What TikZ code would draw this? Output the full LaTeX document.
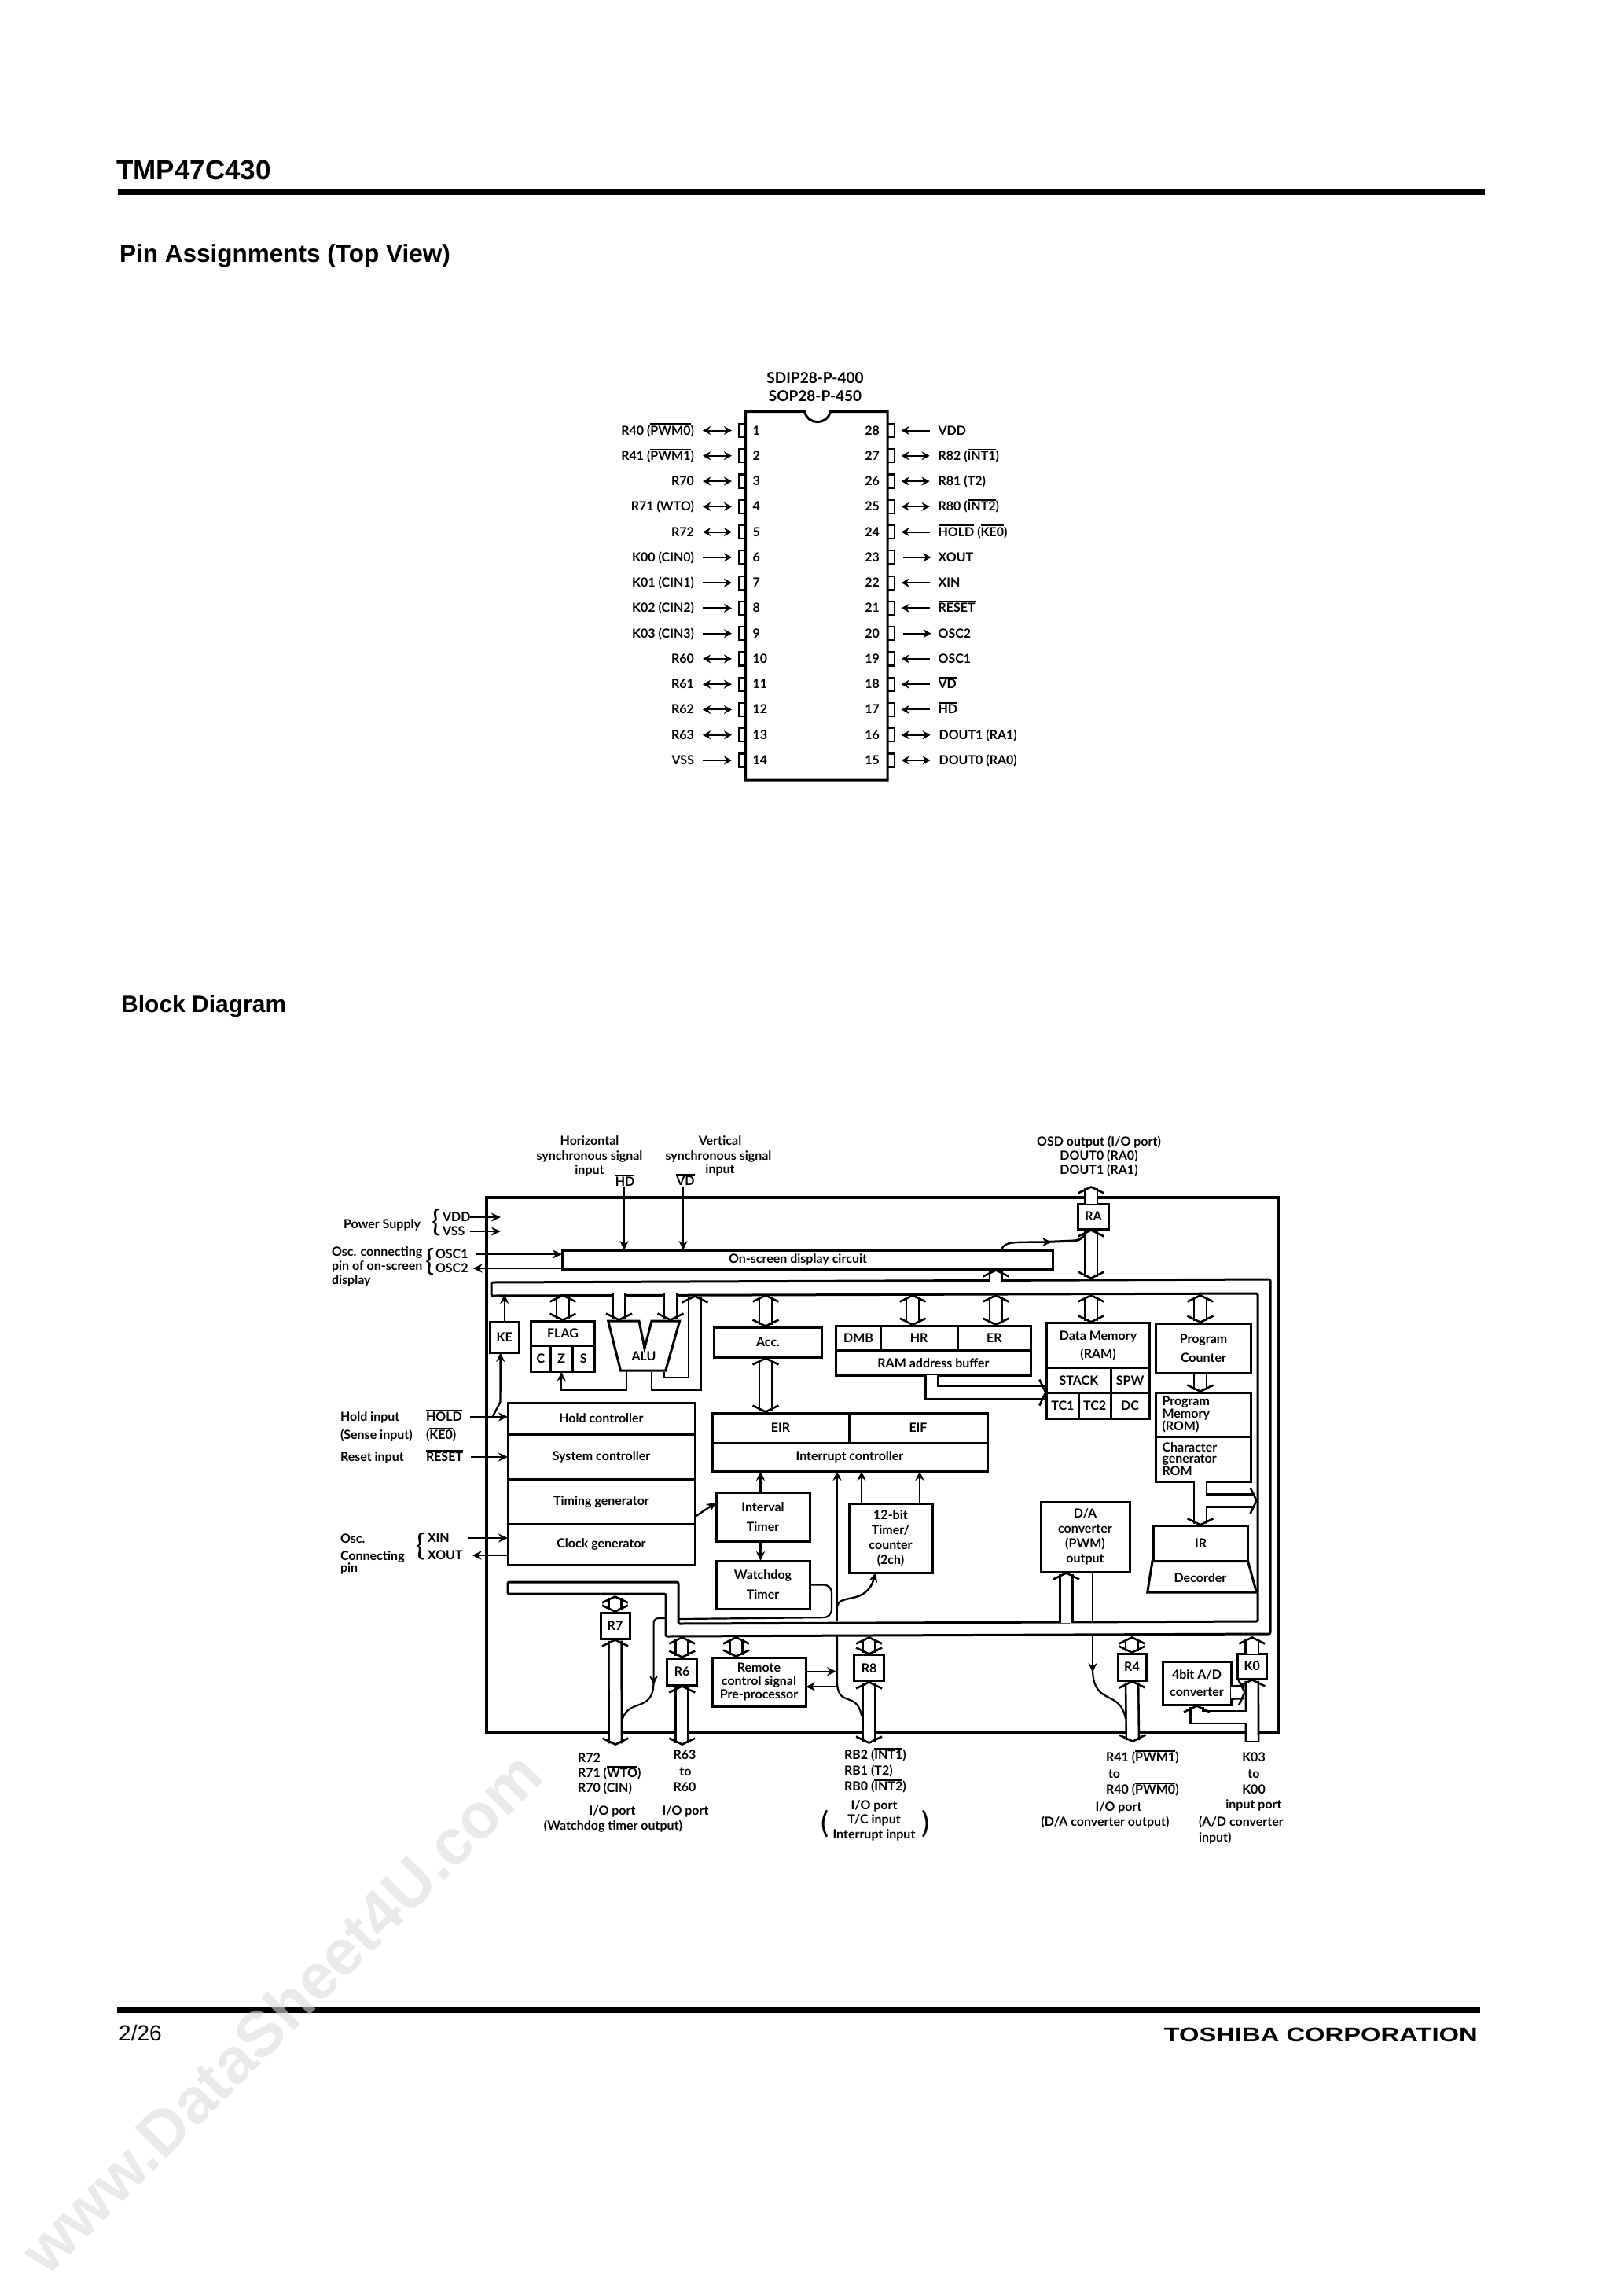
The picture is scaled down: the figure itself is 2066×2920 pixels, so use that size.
\documentclass[tikz,border=0pt]{standalone}
\usepackage{fontspec}
\setmainfont{Lato}
\newfontfamily\headfont{Liberation Sans}
\usetikzlibrary{arrows.meta, positioning, calc}
\newcommand{\lblfont}{\fontsize{16}{19}\selectfont\bfseries}
\newcommand{\ovl}[1]{\leavevmode\vbox{\hrule height 1.7pt \kern 1.3pt \hbox{#1}}}

\begin{document}
\begin{tikzpicture}[
  x=1pt, y=-1pt,
  lbl/.style={inner sep=0pt, outer sep=0pt, text height=11pt, text depth=0pt, font=\lblfont},
  lblw/.style={lbl, anchor=west},
  lble/.style={lbl, anchor=east},
  lblc/.style={lbl, anchor=center},
  stub/.style={draw, line width=2.2pt, fill=white, minimum width=8.6pt, minimum height=17pt, inner sep=0pt, outer sep=0pt},
  pinline/.style={line width=2pt, shorten <=11pt, shorten >=9pt},
  pinin/.style={pinline, -{Stealth[length=10pt, width=11pt]}},
  pinbi/.style={pinline, {Stealth[length=10pt, width=11pt]}-{Stealth[length=10pt, width=11pt]}},
  blk/.style={draw, line width=3pt, fill=white, inner sep=0pt, outer sep=0pt, align=center, font=\lblfont},
  sig/.style={line width=2.4pt, -{Stealth[length=12pt, width=11pt]}},
  wire/.style={line width=2.2pt},
  bustip/.tip={Straight Barb[length=8pt, width=33pt, line width=2.6pt]},
  dbl/.style={double, double distance=13.5pt, line width=2.6pt},
  dblboth/.style={dbl, {bustip}-{bustip}},
  dblend/.style={dbl, -{bustip}},
  dblstart/.style={dbl, {bustip}-},
  bigbrace/.style={inner sep=0pt, font=\fontsize{38}{38}\selectfont},
]
\useasboundingbox (0,0) rectangle (2066,2920);

% page head
\node[anchor=base west, inner sep=0pt, font=\headfont\fontsize{35}{35}\selectfont\bfseries] (title) at (148,228) {TMP47C430};
\coordinate (headl) at (150,244);
\coordinate (headr) at (1889,244);
\draw[line width=8pt] (headl) -- (headr);
\node[anchor=base west, inner sep=0pt, font=\headfont\fontsize{31.5}{31.5}\selectfont\bfseries] (pinhead) at (152,333) {Pin Assignments (Top View)};
\node[anchor=base west, inner sep=0pt, font=\headfont\fontsize{30}{30}\selectfont\bfseries] (blockhead) at (154,1287) {Block Diagram};

% package
\node[lblc, font=\fontsize{19}{19}\selectfont\bfseries] (pkga) at (1037,482) {SDIP28-P-400};
\node[lblc, font=\fontsize{19}{19}\selectfont\bfseries] (pkgb) at (1037,505) {SOP28-P-450};

\node[stub] (pin1) at (944.3,547.5) {};
\node[stub, below=15.27pt of pin1] (pin2) {};
\node[stub, below=15.27pt of pin2] (pin3) {};
\node[stub, below=15.27pt of pin3] (pin4) {};
\node[stub, below=15.27pt of pin4] (pin5) {};
\node[stub, below=15.27pt of pin5] (pin6) {};
\node[stub, below=15.27pt of pin6] (pin7) {};
\node[stub, below=15.27pt of pin7] (pin8) {};
\node[stub, below=15.27pt of pin8] (pin9) {};
\node[stub, below=15.27pt of pin9] (pin10) {};
\node[stub, below=15.27pt of pin10] (pin11) {};
\node[stub, below=15.27pt of pin11] (pin12) {};
\node[stub, below=15.27pt of pin12] (pin13) {};
\node[stub, below=15.27pt of pin13] (pin14) {};
\node[stub] (pin28) at (1133.3,547.5) {};
\node[stub, below=15.27pt of pin28] (pin27) {};
\node[stub, below=15.27pt of pin27] (pin26) {};
\node[stub, below=15.27pt of pin26] (pin25) {};
\node[stub, below=15.27pt of pin25] (pin24) {};
\node[stub, below=15.27pt of pin24] (pin23) {};
\node[stub, below=15.27pt of pin23] (pin22) {};
\node[stub, below=15.27pt of pin22] (pin21) {};
\node[stub, below=15.27pt of pin21] (pin20) {};
\node[stub, below=15.27pt of pin20] (pin19) {};
\node[stub, below=15.27pt of pin19] (pin18) {};
\node[stub, below=15.27pt of pin18] (pin17) {};
\node[stub, below=15.27pt of pin17] (pin16) {};
\node[stub, below=15.27pt of pin16] (pin15) {};

\draw[line width=3pt, fill=white] (948.6,523.6) -- (1023.6,523.6)
  .. controls (1028,541) and (1052,541) .. (1056.4,523.6)
  -- (1129,523.6) -- (1129,992) -- (948.6,992) -- cycle;

\node[lbl, right=9pt of pin1] (num1) {1};
\node[lbl, right=9pt of pin2] (num2) {2};
\node[lbl, right=9pt of pin3] (num3) {3};
\node[lbl, right=9pt of pin4] (num4) {4};
\node[lbl, right=9pt of pin5] (num5) {5};
\node[lbl, right=9pt of pin6] (num6) {6};
\node[lbl, right=9pt of pin7] (num7) {7};
\node[lbl, right=9pt of pin8] (num8) {8};
\node[lbl, right=9pt of pin9] (num9) {9};
\node[lbl, right=9pt of pin10] (num10) {10};
\node[lbl, right=9pt of pin11] (num11) {11};
\node[lbl, right=9pt of pin12] (num12) {12};
\node[lbl, right=9pt of pin13] (num13) {13};
\node[lbl, right=9pt of pin14] (num14) {14};
\node[lbl, left=10pt of pin28] (num28) {28};
\node[lbl, left=10pt of pin27] (num27) {27};
\node[lbl, left=10pt of pin26] (num26) {26};
\node[lbl, left=10pt of pin25] (num25) {25};
\node[lbl, left=10pt of pin24] (num24) {24};
\node[lbl, left=10pt of pin23] (num23) {23};
\node[lbl, left=10pt of pin22] (num22) {22};
\node[lbl, left=10pt of pin21] (num21) {21};
\node[lbl, left=10pt of pin20] (num20) {20};
\node[lbl, left=10pt of pin19] (num19) {19};
\node[lbl, left=10pt of pin18] (num18) {18};
\node[lbl, left=10pt of pin17] (num17) {17};
\node[lbl, left=10pt of pin16] (num16) {16};
\node[lbl, left=10pt of pin15] (num15) {15};

\node[lbl, left=57pt of pin1] (txt1) {R40 (\ovl{PWM0})};
\node[lbl, left=57pt of pin2] (txt2) {R41 (\ovl{PWM1})};
\node[lbl, left=57pt of pin3] (txt3) {R70};
\node[lbl, left=57pt of pin4] (txt4) {R71 (WTO)};
\node[lbl, left=57pt of pin5] (txt5) {R72};
\node[lbl, left=57pt of pin6] (txt6) {K00 (CIN0)};
\node[lbl, left=57pt of pin7] (txt7) {K01 (CIN1)};
\node[lbl, left=57pt of pin8] (txt8) {K02 (CIN2)};
\node[lbl, left=57pt of pin9] (txt9) {K03 (CIN3)};
\node[lbl, left=57pt of pin10] (txt10) {R60};
\node[lbl, left=57pt of pin11] (txt11) {R61};
\node[lbl, left=57pt of pin12] (txt12) {R62};
\node[lbl, left=57pt of pin13] (txt13) {R63};
\node[lbl, left=57pt of pin14] (txt14) {VSS};
\node[lbl, right=56pt of pin28] (txt28) {VDD};
\node[lbl, right=56pt of pin27] (txt27) {R82 (\ovl{INT1})};
\node[lbl, right=56pt of pin26] (txt26) {R81 (T2)};
\node[lbl, right=56pt of pin25] (txt25) {R80 (\ovl{INT2})};
\node[lbl, right=56pt of pin24] (txt24) {\ovl{HOLD} (\ovl{KE0})};
\node[lbl, right=56pt of pin23] (txt23) {XOUT};
\node[lbl, right=56pt of pin22] (txt22) {XIN};
\node[lbl, right=56pt of pin21] (txt21) {\ovl{RESET}};
\node[lbl, right=56pt of pin20] (txt20) {OSC2};
\node[lbl, right=56pt of pin19] (txt19) {OSC1};
\node[lbl, right=56pt of pin18] (txt18) {\ovl{VD}};
\node[lbl, right=56pt of pin17] (txt17) {\ovl{HD}};
\node[lbl, right=57pt of pin16] (txt16) {DOUT1 (RA1)};
\node[lbl, right=57pt of pin15] (txt15) {DOUT0 (RA0)};

\draw[pinbi] (txt1) -- (pin1);
\draw[pinbi] (txt2) -- (pin2);
\draw[pinbi] (txt3) -- (pin3);
\draw[pinbi] (txt4) -- (pin4);
\draw[pinbi] (txt5) -- (pin5);
\draw[pinin] (txt6) -- (pin6);
\draw[pinin] (txt7) -- (pin7);
\draw[pinin] (txt8) -- (pin8);
\draw[pinin] (txt9) -- (pin9);
\draw[pinbi] (txt10) -- (pin10);
\draw[pinbi] (txt11) -- (pin11);
\draw[pinbi] (txt12) -- (pin12);
\draw[pinbi] (txt13) -- (pin13);
\draw[pinin] (txt14) -- (pin14);
\draw[pinin] (txt28) -- (pin28);
\draw[pinbi] (txt27) -- (pin27);
\draw[pinbi] (txt26) -- (pin26);
\draw[pinbi] (txt25) -- (pin25);
\draw[pinin] (txt24) -- (pin24);
\draw[pinin] (pin23) -- (txt23);
\draw[pinin] (txt22) -- (pin22);
\draw[pinin] (txt21) -- (pin21);
\draw[pinin] (pin20) -- (txt20);
\draw[pinin] (txt19) -- (pin19);
\draw[pinin] (txt18) -- (pin18);
\draw[pinin] (txt17) -- (pin17);
\draw[pinbi] (txt16) -- (pin16);
\draw[pinbi] (txt15) -- (pin15);

% outer frame and the main bus
\draw[line width=4.5pt] (619,1523) rectangle (1627,2203);
\draw[line width=3pt, rounded corners=2pt] (625,1631) -- (1616,1627) -- (1616,2078) -- (847,2081) -- (847,2027) -- (646,2027)
  -- (646,2012) -- (863,2012) -- (863,2065) -- (1600,2062) -- (1600,1645) -- (625,1648) -- cycle;
\coordinate (busup) at (0,1646);
\coordinate (busdn) at (0,2081);
\coordinate (busr7) at (0,2029);

% blocks
\node[blk, minimum width=624pt, minimum height=24pt] (osd) at (1027,1602) {On-screen display circuit\hspace*{24pt}};
\node[blk, minimum width=38.4pt, minimum height=32pt] (ra) at (1391,1547) {RA};
\node[blk, minimum width=36.6pt, minimum height=39pt] (ke) at (641.7,1700.5) {KE};
\node[blk, minimum width=81pt, minimum height=31.6pt] (flag) at (716,1696) {FLAG};
\node[blk, minimum width=25pt, minimum height=33pt] (flagc) at (688,1728) {C};
\node[blk, minimum width=27.5pt, minimum height=33pt, right=0pt of flagc] (flagz) {Z};
\node[blk, minimum width=28.7pt, minimum height=33pt, right=0pt of flagz] (flags) {S};
\node[blk, minimum width=136.5pt, minimum height=38pt] (acc) at (977,1707) {Acc.};
\node[blk, minimum width=56.3pt, minimum height=31.7pt] (dmb) at (1092,1702) {DMB};
\node[blk, minimum width=98pt, minimum height=31.7pt, right=0pt of dmb] (hr) {HR};
\node[blk, minimum width=93.4pt, minimum height=31.7pt, right=0pt of hr] (er) {ER};
\node[blk, minimum width=247.7pt, minimum height=31.3pt] (rambuf) at (1187.5,1733.4) {RAM address buffer};
\node[blk, minimum width=130.3pt, minimum height=56.6pt] (ram) at (1397,1711) {Data Memory\\[4pt](RAM)};
\node[blk, minimum width=81.3pt, minimum height=31.4pt] (stack) at (1372.4,1755.3) {STACK};
\node[blk, minimum width=49pt, minimum height=31.4pt, right=0pt of stack] (spw) {SPW};
\node[blk, minimum width=40.3pt, minimum height=33.6pt] (tca) at (1351.9,1787.8) {TC1};
\node[blk, minimum width=41pt, minimum height=33.6pt, right=0pt of tca] (tcb) {TC2};
\node[blk, minimum width=49pt, minimum height=33.6pt, right=0pt of tcb] (dc) {DC};
\node[blk, minimum width=121.5pt, minimum height=63.5pt] (pc) at (1531,1714.8) {Program\\[5pt]Counter};
\node[blk, text width=105pt, align=left, minimum width=121.5pt, minimum height=56.6pt, font=\fontsize{16}{14}\selectfont\bfseries] (rom) at (1531,1799.3) {Program\\Memory\\(ROM)};
\node[blk, text width=105pt, align=left, minimum width=121.5pt, minimum height=56.4pt, font=\fontsize{16}{14}\selectfont\bfseries] (cgrom) at (1531,1855.8) {Character\\generator\\ROM};
\node[blk, minimum width=120pt, minimum height=44.6pt] (ir) at (1527.5,1963) {IR};
\node[blk, minimum width=238pt, minimum height=40pt] (hold) at (765,1804) {Hold controller};
\node[blk, minimum width=238pt, minimum height=57pt, below=0pt of hold] (sysc) {System controller};
\node[blk, minimum width=238pt, minimum height=57.6pt, below=0pt of sysc] (timing) {Timing generator};
\node[blk, minimum width=238pt, minimum height=51.4pt, below=0pt of timing] (clock) {Clock generator};
\node[blk, minimum width=174pt, minimum height=38pt] (eir) at (993,1816) {EIR};
\node[blk, minimum width=176pt, minimum height=38pt, right=0pt of eir] (eif) {EIF};
\node[blk, minimum width=350pt, minimum height=36pt] (intc) at (1081,1853) {Interrupt controller};
\node[blk, minimum width=119pt, minimum height=62pt] (itimer) at (970.5,1929) {Interval\\[6pt]Timer};
\node[blk, minimum width=119pt, minimum height=61pt, below=25pt of itimer] (wdog) {Watchdog\\[6pt]Timer};
\node[blk, minimum width=106pt, minimum height=88pt] (timer) at (1133,1956) {12-bit\\Timer/\\counter\\(2ch)};
\node[blk, minimum width=113pt, minimum height=89pt] (da) at (1380.5,1954.5) {D/A\\converter\\(PWM)\\output};
\node[blk, minimum width=119pt, minimum height=62pt] (remote) at (965.5,2139) {Remote\\[-2pt]control signal\\[-2pt]Pre-processor};
\node[blk, minimum width=37pt, minimum height=33pt] (r7) at (782.5,2067.5) {R7};
\node[blk, minimum width=37.5pt, minimum height=34pt] (r6) at (867.7,2126) {R6};
\node[blk, minimum width=38pt, minimum height=33pt] (r8) at (1105.6,2121.4) {R8};
\node[blk, minimum width=36pt, minimum height=34pt] (r4) at (1440,2120) {R4};
\node[blk, minimum width=36.4pt, minimum height=32pt] (k0) at (1592.8,2119) {K0};
\node[blk, minimum width=87pt, minimum height=55pt] (ad) at (1522.5,2140.5) {4bit A/D\\[3pt]converter};

% ALU and decoder outlines
\coordinate (aluout) at (797,1743);
\draw[line width=3pt, fill=white] (773.7,1680) -- (813,1680) -- (820,1714.7) -- (829,1680) -- (864.6,1680)
  -- (846.8,1743) -- (789.5,1743) -- cycle;
\node[lblc] (alu) at (819,1725) {ALU};
\draw[line width=3pt, fill=white] (1466,1985.6) -- (1587.6,1985.6) -- (1598.4,2025) -- (1459.7,2025) -- cycle;
\node[lblc] (decoder) at (1527,2006.7) {Decorder};

% bus stubs
\coordinate (inleft) at (787.5,1645);
\coordinate (inright) at (853,1645);
\coordinate (fback) at (884,1647);
\coordinate (rtop) at (1388,1508);
\coordinate (rdown) at (1388,1627);
\coordinate (osdup) at (1267,1631);
\coordinate (branch) at (1534,1908.5);
\coordinate (branchend) at (1600,1908.5);
\coordinate (dastub) at (1356.5,2063.5);
\coordinate (r7end) at (783,2220);
\coordinate (r6end) at (867.7,2220);
\coordinate (r8end) at (1105.6,2218);
\coordinate (r4end) at (1441,2216);
\coordinate (k0end) at (1593,2215);
\coordinate (adin) at (1587,2184);
\coordinate (adout) at (1585,2152);

\draw[dblboth] (flag.north |- busup) -- (flag.north);
\draw[dblend] (inleft) -- (787.5,1680);
\draw[dblend] (inright) -- (853,1680);
\draw[dblstart] (fback) -- (884,1760) -- (837,1760) -- (837,1745);
\draw[dblboth] ([xshift=-3pt]acc.north |- busup) -- ([xshift=-3pt]acc.north);
\draw[dblboth] ([xshift=-3pt]acc.south) -- ([xshift=-3pt]acc.south |- eir.north);
\draw[dblboth] ([xshift=-8pt]hr.north |- busup) -- ([xshift=-8pt]hr.north);
\draw[dblboth] ([xshift=2pt]er.north |- busup) -- ([xshift=2pt]er.north);
\draw[dblboth] ([xshift=-9pt]ram.north |- busup) -- ([xshift=-9pt]ram.north);
\draw[dblboth] ([xshift=-4pt]pc.north |- busup) -- ([xshift=-4pt]pc.north);
\draw[dblend] ([xshift=-4pt]pc.south) -- ([xshift=-4pt]rom.north);
\draw[dblend] ([xshift=-2pt]rambuf.south) |- (stack.south west);
\draw[dblend] ([xshift=-4pt]cgrom.south) -- ([xshift=-4pt]cgrom.south |- ir.north);
\draw[dblend] (branch) -- (branchend);
\draw[dblend] (osdup) -- (osdup |- osd.south);
\draw[dblend] (ra.north -| rtop) -- (rtop);
\draw[dblboth] (ra.south -| rdown) -- (rdown);
\draw[dblend] (dastub) -- (dastub |- da.south);
\draw[dblboth] (r7.north) -- (r7.north |- busr7);
\draw[dblboth] (r7.south) -- (r7end);
\draw[dblboth] (r6.north) -- (r6.north |- busdn);
\draw[dblboth] (r6.south) -- (r6end);
\draw[dblboth] ([xshift=-29pt]remote.north) -- ([xshift=-29pt]remote.north |- busdn);
\draw[dblboth] (r8.north) -- (r8.north |- busdn);
\draw[dblboth] (r8.south) -- (r8end);
\draw[dblboth] (r4.north) -- (r4.north |- busdn);
\draw[dblboth] (r4.south) -- (r4end);
\draw[dblend] (k0.north) -- (k0.north |- busdn);
\draw[dblstart] (k0.south) -- (k0end);
\draw[line width=2.6pt] ([xshift=-8.1pt]k0end) -- ([xshift=8.1pt]k0end);
\draw[dblend] (adin) -| (ad.south);
\draw[dblend] ([yshift=-12pt]ad.east) -- (adout);

% signal lines
\coordinate (wtoin) at (847,2058);
\coordinate (holdtap) at (627,1801);
\coordinate (rabus) at (1380,1571);
\coordinate (pwmtap) at (1390,2081);
\coordinate (inttap) at (1065,2081);
\draw[sig] (ke.north) -- (ke.north |- busup);
\draw[sig] (holdtap) -- (636.5,1783) -- ([xshift=-5pt]ke.south);
\draw[sig] (aluout) -- (797,1768) -| (flagz.south);
\draw[sig] ([xshift=-3pt]itimer.north) -- ([xshift=-3pt]itimer.north |- intc.south);
\draw[sig] ([xshift=-3pt]itimer.south) -- ([xshift=-3pt]wdog.north);
\draw[sig] (timing.east |- itimer.west) -- ([yshift=18pt]itimer.west);
\draw[sig] (1065,2062) -- (1065,1871);
\draw[sig] ([xshift=-37pt]timer.north) -- ([xshift=-37pt]timer.north |- intc.south);
\draw[sig] ([xshift=37pt]timer.north) -- ([xshift=37pt]timer.north |- intc.south);
\draw[sig] (1065,2043) .. controls (1068,2026) and (1102,2042) .. ([xshift=-19pt]timer.south);
\draw[wire, rounded corners=10pt] (wdog.east) -- (1058,2015.5) -- (1058,2057) -- (864,2059);
\draw[sig, line width=2pt, rounded corners=6pt] (wtoin) -- (831.5,2058) -- (831.5,2143);
\draw[wire] (831.5,2140) .. controls (831,2178) and (800,2160) .. (792,2186);
\draw[wire] (inttap) -- (1065,2140) .. controls (1066,2172) and (1090,2150) .. (1096,2182);
\draw[wire] (1390,2000) -- (1390,2062);
\draw[sig, line width=2pt] (pwmtap) -- (1390,2127);
\draw[wire] (1390,2125) .. controls (1392,2170) and (1425,2148) .. (1432,2186);
\draw[sig] (remote.east |- 0,2125.7) -- (1064,2125.7);
\draw[sig] (1064,2145) -- (remote.east |- 0,2145);
\draw[sig] ([xshift=247pt]osd.north) .. controls (1277,1578) and (1290,1580) .. (1338,1579.5);
\draw[line width=3pt] (1330,1579.5) -- (1365,1578) .. controls (1372,1578) and (1374,1576) .. (rabus);

% top labels
\node[lblc] (hsa) at (750,1451) {Horizontal};
\node[lblc] (hsb) at (750,1470) {synchronous signal};
\node[lblc] (hsc) at (750,1488) {input};
\node[lblc] (hd) at (795,1503) {\ovl{HD}};
\node[lblc] (vsa) at (916,1451) {Vertical};
\node[lblc] (vsb) at (914,1470) {synchronous signal};
\node[lblc] (vsc) at (916,1487) {input};
\node[lblc] (vd) at (872,1502) {\ovl{VD}};
\coordinate (hdport) at (794,1510);
\coordinate (vdport) at (869,1510);
\draw[sig] (hdport) -- (hdport |- osd.north);
\draw[sig] (vdport) -- (vdport |- osd.north);
\node[lblc] (osda) at (1398,1452) {OSD output (I/O port)};
\node[lblc] (osdb) at (1398,1470) {DOUT0 (RA0)};
\node[lblc] (osdc) at (1398,1488) {DOUT1 (RA1)};

% left labels
\node[lblc] (power) at (486,1557) {Power Supply};
\node[bigbrace] (brpow) at (555,1555) {\{};
\node[lblw] (vdd) at (563,1548) {VDD};
\node[lblw] (vss) at (563,1566) {VSS};
\draw[sig] (vdd.east) -- (637,1548);
\draw[sig, shorten <=7pt] (vss.east) -- (637,1566);
\node[lblw] (osca) at (422,1592) {Osc. connecting};
\node[lblw] (oscb) at (422,1610) {pin of on-screen};
\node[lblw] (oscc) at (422,1628) {display};
\node[bigbrace] (brosc) at (547,1605) {\{};
\node[lblw] (osca1) at (554,1595) {OSC1};
\node[lblw] (osca2) at (554,1613) {OSC2};
\draw[sig, shorten <=9pt] (osca1.east) -- (osca1.east -| osd.west);
\draw[sig, shorten >=6pt] (osca2.east -| osd.west) -- (osca2.east);
\node[lblw] (holdi) at (433,1802) {Hold input};
\node[lblw] (holdn) at (542,1802) {\ovl{HOLD}};
\node[lblw] (sense) at (433,1825) {(Sense input)};
\node[lblw] (ke0) at (542,1825) {(\ovl{KE0})};
\node[lblw] (reseti) at (433,1853) {Reset input};
\node[lblw] (resetn) at (542,1853) {\ovl{RESET}};
\draw[sig, shorten <=10pt] (holdn.east) -- (holdn.east -| hold.west);
\draw[sig, shorten <=10pt] (resetn.east) -- (resetn.east -| sysc.west);
\node[lblw] (oscl) at (433,1957) {Osc.};
\node[lblw] (conn) at (433,1979) {Connecting};
\node[lblw] (pinl) at (433,1994) {pin};
\node[bigbrace] (brxt) at (535,1967) {\{};
\node[lblw] (xin) at (544,1956) {XIN};
\node[lblw] (xout) at (544,1978) {XOUT};
\draw[sig, shorten <=24pt] (xin.east) -- (xin.east -| clock.west);
\draw[sig, shorten >=12pt] (xout.east -| clock.west) -- (xout.east);

% bottom labels
\node[lblw] (pa) at (735,2236) {R72};
\node[lblw] (pb) at (735,2255) {R71 (\ovl{WTO})};
\node[lblw] (pc7) at (735,2274) {R70 (CIN)};
\node[lblc] (pd) at (871,2232) {R63};
\node[lblc] (pe) at (872,2253) {to};
\node[lblc] (pf) at (871,2273) {R60};
\node[lblc] (pg) at (779,2303) {I/O port};
\node[lblc] (ph) at (872,2303) {I/O port};
\node[lblc] (pi) at (780,2322) {(Watchdog timer output)};
\node[lblw] (qa) at (1074,2232) {RB2 (\ovl{INT1})};
\node[lblw] (qb) at (1074,2252) {RB1 (T2)};
\node[lblw] (qc) at (1074,2272) {RB0 (\ovl{INT2})};
\node[lblc] (qd) at (1112,2296) {I/O port};
\node[lblc] (qe) at (1112,2314) {T/C input};
\node[lblc] (qf) at (1112,2333) {Interrupt input};
\node[bigbrace, font=\fontsize{38}{38}\selectfont\mdseries] (qg) at (1050,2320) {(};
\node[bigbrace, font=\fontsize{38}{38}\selectfont\mdseries] (qh) at (1178,2320) {)};
\node[lblw] (ra1) at (1407,2235) {R41 (\ovl{PWM1})};
\node[lblw] (ra2) at (1410,2256) {to};
\node[lblw] (ra3) at (1407,2276) {R40 (\ovl{PWM0})};
\node[lblc] (ra4) at (1423,2298) {I/O port};
\node[lblc] (ra5) at (1406,2317) {(D/A converter output)};
\node[lblc] (ka) at (1595,2235) {K03};
\node[lblc] (kb) at (1595,2256) {to};
\node[lblc] (kc) at (1595,2276) {K00};
\node[lblc] (kd) at (1595,2295) {input port};
\node[lblw] (ke1) at (1525,2317) {(A/D converter};
\node[lblw] (ke2) at (1525,2337) {input)};

% page foot
\coordinate (footl) at (149,2556);
\coordinate (footr) at (1883,2556);
\draw[line width=7pt] (footl) -- (footr);
\node[anchor=base west, inner sep=0pt, font=\headfont\fontsize{28}{28}\selectfont] (page) at (151,2595) {2/26};
\node[anchor=base east, inner sep=0pt, font=\headfont\fontsize{25}{25}\selectfont\bfseries, xscale=1.31] (toshiba) at (1880,2596) {TOSHIBA CORPORATION};

% watermark
\node[inner sep=0pt, rotate=45, opacity=0.59, text=black!15, font=\headfont\fontsize{81}{81}\selectfont\bfseries] (mark) at (357,2559) {www.DataSheet4U.com};
\end{tikzpicture}
\end{document}
